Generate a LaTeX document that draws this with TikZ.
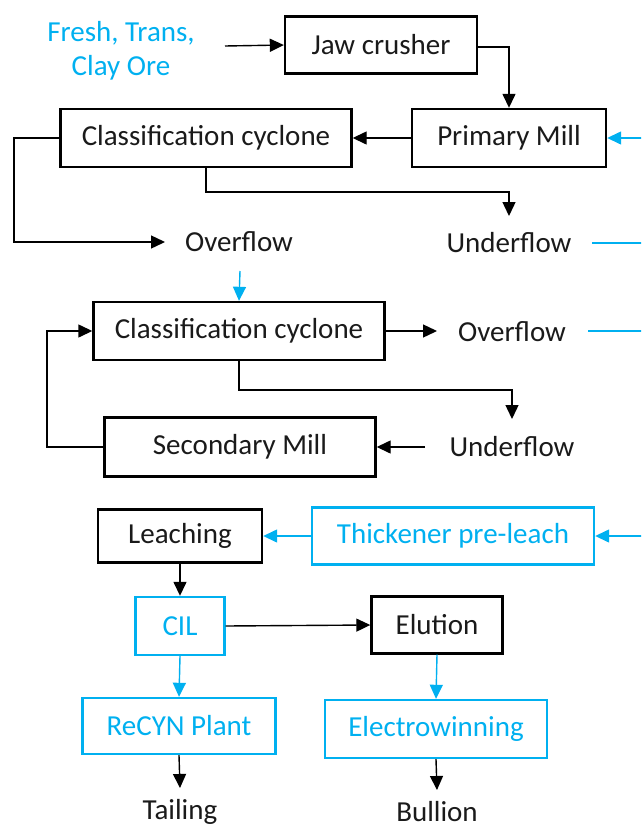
\documentclass[tikz,border=0pt]{standalone}
\usepackage{fontspec}
\setmainfont{Carlito}
\usetikzlibrary{arrows.meta}
\definecolor{flowblue}{HTML}{00B0F0}
\definecolor{ink}{HTML}{1A1A1A}

\begin{document}
\begin{tikzpicture}[x=1pt,y=-1pt,
  txt/.style={font=\fontsize{29}{34}\selectfont},
  box/.style={txt,draw=black,line width=2.4pt,inner sep=0pt,text=ink},
  bluebox/.style={box,draw=flowblue,text=flowblue},
  lbl/.style={txt,inner sep=0pt,text=ink},
  arr/.style={line width=1.4pt,-{Triangle[length=14pt,width=13pt]}},
  barr/.style={arr,draw=flowblue,fill=flowblue},
  bline/.style={line width=1.4pt,draw=flowblue}]

\useasboundingbox (0,0) rectangle (641,828);
\clip (0,0) rectangle (641,828);

% grinding circuit
\node[lbl,text=flowblue,align=center] (ore) at (121,51) {Fresh, Trans,\\Clay Ore};
\node[box,minimum width=192pt,minimum height=57pt] (jaw) at (381,45) {Jaw crusher};
\node[box,minimum width=194pt,minimum height=58pt] (pm) at (509,138) {Primary Mill};
\node[box,minimum width=291pt,minimum height=58pt] (cc1) at (206,138) {Classification cyclone};
\node[lbl] (of1) at (239,242) {Overflow};
\node[lbl] (uf1) at (509,243) {Underflow};

\node[box,minimum width=291pt,minimum height=58pt] (cc2) at (239,331) {Classification cyclone};
\node[lbl] (of2) at (512,332) {Overflow};
\node[lbl] (uf2) at (512,447) {Underflow};
\node[box,minimum width=271pt,minimum height=59pt] (sm) at (240,447) {Secondary Mill};

% leaching and recovery
\node[box,minimum width=164pt,minimum height=53pt] (leach) at (180,536) {Leaching};
\node[bluebox,minimum width=282pt,minimum height=57pt] (thick) at (453,536) {Thickener pre-leach};
\node[bluebox,minimum width=89pt,minimum height=58pt] (cil) at (180,626) {CIL};
\node[box,minimum width=131pt,minimum height=57pt] (elu) at (437,625) {Elution};
\node[bluebox,minimum width=193pt,minimum height=56pt] (recyn) at (179,726) {ReCYN Plant};
\node[bluebox,minimum width=222pt,minimum height=58pt] (ew) at (436,729) {Electrowinning};
\node[lbl] (tail) at (180,812) {Tailing};
\node[lbl] (bull) at (437,812) {Bullion};

% free ends of connectors
\coordinate (orestart) at (225,46);
\coordinate (of1tip) at (165,242);
\coordinate (uf1tip) at (509,216);
\coordinate (of2tip) at (437,331);
\coordinate (uf2tip) at (512,419);
\coordinate (uf2start) at (425,447);
\coordinate (tailtip) at (180,788);
\coordinate (bulltip) at (437,790);
\coordinate (pmin) at (650,138);
\coordinate (uf1out) at (592,243);
\coordinate (uf1end) at (650,243);
\coordinate (cc2in) at (240,271);
\coordinate (of2out) at (588,331);
\coordinate (of2end) at (650,331);
\coordinate (thickin) at (650,536);

% black connectors
\draw[arr] (orestart) -- (jaw.west);
\draw[arr] ([yshift=-2pt]jaw.east) -| (pm.north);
\draw[arr] (pm.west) -- (cc1.east);
\draw[arr] (cc1.west) -- (14,138) |- (of1tip);
\draw[arr] (cc1.south) |- (509,192) -- (uf1tip);
\draw[arr] (cc2.east) -- (of2tip);
\draw[arr] (cc2.south) |- (512,390) -- (uf2tip);
\draw[arr] (uf2start) -- (sm.east);
\draw[arr] (sm.west) -- (47,447) |- (cc2.west);
\draw[arr] (leach.south) -- (cil.north);
\draw[arr] (cil.east) -- (elu.west);
\draw[arr] (recyn.south) -- (tailtip);
\draw[arr] (ew.south) -- (bulltip);

% blue connectors
\draw[barr] (pmin) -- (pm.east);
\draw[bline] (uf1out) -- (uf1end);
\draw[barr] (cc2in) -- (cc2.north);
\draw[bline] (of2out) -- (of2end);
\draw[barr] (thickin) -- (thick.east);
\draw[barr] (thick.west) -- (leach.east);
\draw[barr] (cil.south) -- (recyn.north);
\draw[barr] (elu.south) -- (ew.north);
\end{tikzpicture}
\end{document}
